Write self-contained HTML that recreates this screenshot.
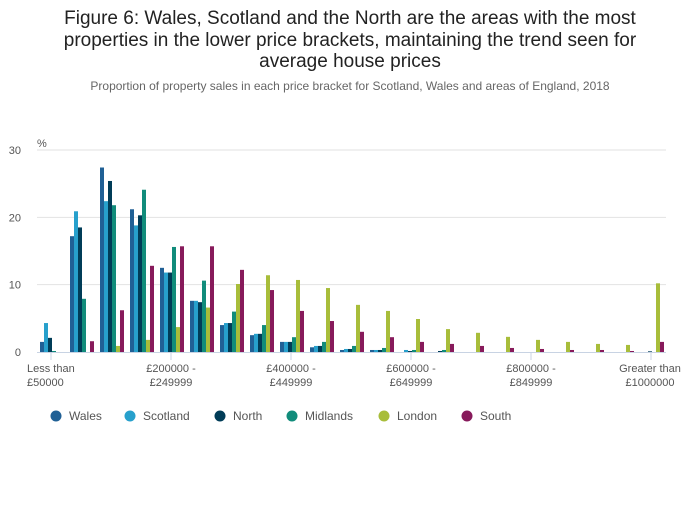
<!DOCTYPE html>
<html><head><meta charset="utf-8"><style>
body{margin:0;background:#fff;font-family:"Liberation Sans",sans-serif;}
svg text{font-family:"Liberation Sans",sans-serif;}
</style></head><body>
<svg id="c" width="700" height="502">
<text x="350" y="24" text-anchor="middle" font-size="19" fill="#222">Figure 6: Wales, Scotland and the North are the areas with the most</text>
<text x="350" y="46" text-anchor="middle" font-size="19" fill="#222">properties in the lower price brackets, maintaining the trend seen for</text>
<text x="350" y="67" text-anchor="middle" font-size="19" fill="#222">average house prices</text>
<text x="350" y="90" text-anchor="middle" font-size="12" fill="#666">Proportion of property sales in each price bracket for Scotland, Wales and areas of England, 2018</text>
<text x="37" y="147" font-size="11" fill="#555">%</text>
<g id="grid"></g><g id="bars"></g><g id="xax"></g><g id="legend"></g>
</svg>
<script>
const categories=["Less than £50000","£50000-£99999","£100000-£149999","£150000-£199999","£200000-£249999","£250000-£299999","£300000-£349999","£350000-£399999","£400000-£449999","£450000-£499999","£500000-£549999","£550000-£599999","£600000-£649999","£650000-£699999","£700000-£749999","£750000-£799999","£800000-£849999","£850000-£899999","£900000-£949999","£950000-£999999","Greater than £1000000"];
const seriesNames=["Wales","Scotland","North","Midlands","London","South"];
const wales=[1.5,17.2,27.4,21.2,12.5,7.6,4.0,2.5,1.5,0.7,0.3,0.3,0,0,0,0,0,0,0,0,0];
const scotland=[4.3,20.9,22.4,18.8,11.8,7.6,4.3,2.7,1.5,0.9,0.45,0.3,0.3,0,0,0,0,0,0,0,0];
const north=[2.1,18.5,25.4,20.3,11.8,7.4,4.3,2.7,1.5,0.9,0.45,0.3,0.15,0.15,0,0,0,0,0,0,0.1];
const midlands=[0.15,7.9,21.8,24.1,15.6,10.6,6.0,4.0,2.2,1.5,0.9,0.6,0.3,0.3,0,0,0,0,0,0,0];
const london=[0,0,0.9,1.8,3.7,6.6,10.1,11.4,10.7,9.5,7.0,6.1,4.9,3.4,2.85,2.25,1.8,1.5,1.2,1.05,10.2];
const south=[0,1.6,6.2,12.8,15.7,15.7,12.2,9.2,6.1,4.6,3.0,2.2,1.5,1.2,0.9,0.6,0.45,0.3,0.3,0.15,1.5];
const yTicks=[0,10,20,30];
const colors=["#206095","#27a0cc","#003c57","#118c7b","#a8bd3a","#871a5b"];
const series=[wales,scotland,north,midlands,london,south];
const NS="http://www.w3.org/2000/svg";
const y=v=>352-v*(202/30);
const xc=i=>52+i*30;
function mk(tag,attrs,parent){const e=document.createElementNS(NS,tag);for(const k in attrs)e.setAttribute(k,attrs[k]);parent.appendChild(e);return e;}
const grid=document.getElementById('grid');
yTicks.forEach(t=>{
  if(t>0){const l=mk('line',{x1:37,x2:666,y1:y(t),y2:y(t),stroke:'#e2e2e2','stroke-width':1},grid);
  
  }
  const tx=mk('text',{x:21,y:y(t)+4,'text-anchor':'end','font-size':11,fill:'#555'},grid);tx.textContent=t;
  
  
});
const bars=document.getElementById('bars');
series.forEach((s,si)=>{s.forEach((v,i)=>{
  if(v<=0)return;
  const r=mk('rect',{x:xc(i)-12+si*4,y:y(v),width:4,height:352-y(v),fill:colors[si]},bars);
  
  
});});
const xax=document.getElementById('xax');
const base=mk('line',{x1:37,x2:666,y1:352.5,y2:352.5,stroke:'#c8d3e3','stroke-width':1},xax);


[0,4,8,12,16,20].forEach(i=>{
  const tk=mk('line',{x1:xc(i)-1,x2:xc(i)-1,y1:352,y2:360,stroke:'#c8d3e3'},xax);
  
  
  const c=categories[i];let l1,l2;
  if(i===0){l1="Less than";l2="£50000";}else if(i===20){l1="Greater than";l2="£1000000";}else{const p=c.split('-');l1=p[0]+" -";l2=p[1];}
  const anchor=i===0?'start':'middle';const xx=i===0?27:(i===20?650:xc(i)-1);
  const t1=mk('text',{x:xx,y:372,'text-anchor':anchor,'font-size':11,fill:'#555'},xax);t1.textContent=l1;
  
  
  const t2=mk('text',{x:xx,y:386,'text-anchor':anchor,'font-size':11,fill:'#555'},xax);t2.textContent=l2;
  
  
});
const leg=document.getElementById('legend');
const lx=[56,130,220,292,384,467];
seriesNames.forEach((n,si)=>{
  const g=mk('g',{},leg);
  
  
  mk('circle',{cx:lx[si],cy:416,r:5.5,fill:colors[si]},g);
  const t=mk('text',{x:lx[si]+13,y:420,'font-size':12,fill:'#555'},g);t.textContent=n;
});
</script>
</body></html>
